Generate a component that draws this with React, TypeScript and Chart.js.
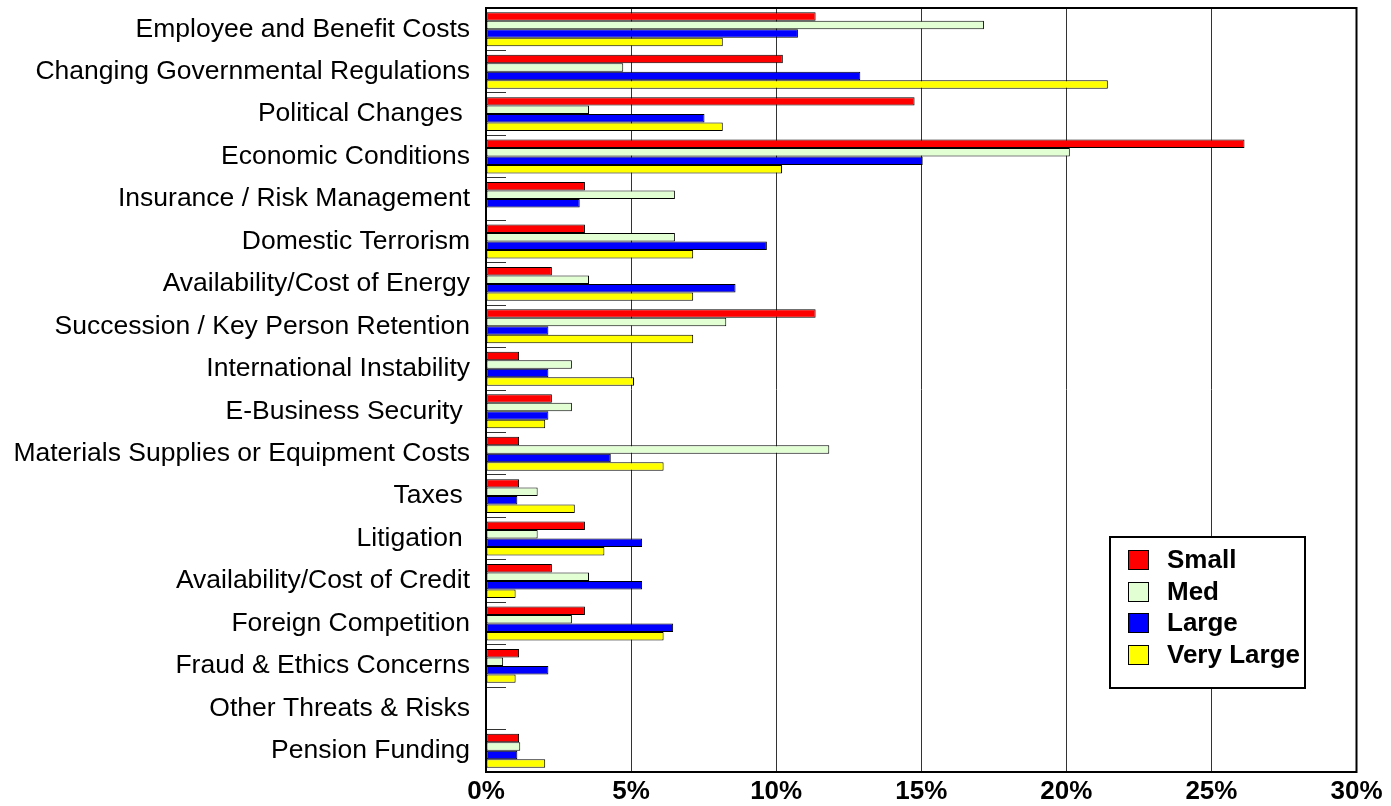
import React, { useEffect, useRef } from 'react';
import { Chart, registerables } from 'chart.js';

Chart.register(...registerables);

const categories = [
  'Employee and Benefit Costs',
  'Changing Governmental Regulations',
  'Political Changes ',
  'Economic Conditions',
  'Insurance / Risk Management',
  'Domestic Terrorism',
  'Availability/Cost of Energy',
  'Succession / Key Person Retention',
  'International Instability',
  'E-Business Security ',
  'Materials Supplies or Equipment Costs',
  'Taxes ',
  'Litigation ',
  'Availability/Cost of Credit',
  'Foreign Competition',
  'Fraud & Ethics Concerns',
  'Other Threats & Risks',
  'Pension Funding',
];

const seriesNames = ['Small', 'Med', 'Large', 'Very Large'];

const small = [11.36, 10.23, 14.77, 26.14, 3.41, 3.41, 2.27, 11.36, 1.14, 2.27, 1.14, 1.14, 3.41, 2.27, 3.41, 1.14, 0, 1.14];
const med = [17.16, 4.73, 3.55, 20.12, 6.51, 6.51, 3.55, 8.28, 2.96, 2.96, 11.83, 1.78, 1.78, 3.55, 2.96, 0.59, 0, 1.18];
const large = [10.75, 12.9, 7.53, 15.05, 3.23, 9.68, 8.6, 2.15, 2.15, 2.15, 4.3, 1.08, 5.38, 5.38, 6.45, 2.15, 0, 1.08];
const veryLarge = [8.16, 21.43, 8.16, 10.2, 0, 7.14, 7.14, 7.14, 5.1, 2.04, 6.12, 3.06, 4.08, 1.02, 6.12, 1.02, 0, 2.04];

const xTickLabels = ['0%', '5%', '10%', '15%', '20%', '25%', '30%'];

const seriesColors = ['#FF0000', '#E2FFD4', '#0000FF', '#FFFF00'];

const FONT = "'Liberation Sans', Arial, Helvetica, sans-serif";

const framePlugin = {
  id: 'frame',
  afterDatasetsDraw(chart: any) {
    const { ctx, chartArea } = chart;
    ctx.save();
    ctx.strokeStyle = '#000';
    ctx.lineWidth = 2;
    ctx.strokeRect(chartArea.left, chartArea.top, chartArea.right - chartArea.left, chartArea.bottom - chartArea.top);
    ctx.restore();
  },
};

const boxLegendPlugin = {
  id: 'boxLegend',
  afterDraw(chart: any) {
    const ctx = chart.ctx;
    const bx = 1110, by = 537, bw = 195, bh = 151;
    ctx.save();
    ctx.fillStyle = '#fff';
    ctx.fillRect(bx, by, bw, bh);
    ctx.strokeStyle = '#000';
    ctx.lineWidth = 2;
    ctx.strokeRect(bx, by, bw, bh);
    ctx.font = `bold 26px ${FONT}`;
    ctx.textBaseline = 'middle';
    ctx.textAlign = 'left';
    chart.data.datasets.forEach((ds: any, i: number) => {
      const cy = 560 + i * 31.6;
      ctx.fillStyle = ds.backgroundColor;
      ctx.fillRect(1128, Math.round(cy - 10), 21, 20);
      ctx.lineWidth = 1;
      ctx.strokeStyle = '#000';
      ctx.strokeRect(1128.5, Math.round(cy - 10) + 0.5, 20, 19);
      ctx.fillStyle = '#000';
      ctx.fillText(ds.label, 1167, cy + 1);
    });
    ctx.restore();
  },
};

export default function App() {
  const canvasRef = useRef<HTMLCanvasElement | null>(null);

  useEffect(() => {
    document.body.style.margin = '0';
    const canvas = canvasRef.current;
    if (!canvas) return;
    const seriesData = [small, med, large, veryLarge];
    const chart = new Chart(canvas, {
      type: 'bar',
      data: {
        labels: categories,
        datasets: seriesNames.map((name, i) => ({
          label: name,
          data: seriesData[i],
          backgroundColor: seriesColors[i],
          borderColor: '#000',
          borderWidth: 1,
          borderSkipped: false,
          categoryPercentage: 0.8,
          barPercentage: 1,
        })),
      },
      options: {
        animation: false,
        responsive: false,
        indexAxis: 'y',
        layout: { padding: { top: 8, right: 34.5, bottom: 0, left: 0 } },
        plugins: {
          legend: { display: false },
          tooltip: { enabled: false },
        },
        scales: {
          x: {
            type: 'linear',
            position: 'bottom',
            min: 0,
            max: 30,
            ticks: {
              stepSize: 5,
              autoSkip: false,
              maxRotation: 0,
              padding: 4,
              color: '#000',
              font: { family: FONT, size: 26, weight: 'bold' },
              callback: (v: any) => xTickLabels[Math.round(Number(v) / 5)] ?? '',
            },
            grid: {
              drawTicks: false,
              color: '#333',
              lineWidth: 1,
            },
            border: { display: true, color: '#000', width: 2 },
            afterFit: (s: any) => { s.height = 34; s.paddingLeft = 0; },
          },
          y: {
            type: 'category',
            position: 'left',
            offset: true,
            grid: {
              offset: true,
              drawOnChartArea: false,
              drawTicks: true,
              tickLength: -20,
              color: '#333',
              lineWidth: 1,
            },
            border: { display: true, color: '#000', width: 2 },
            ticks: {
              autoSkip: false,
              padding: 36,
              color: '#000',
              font: { family: FONT, size: 26.5 },
            },
            afterFit: (s: any) => { s.width = 486; s.paddingTop = 0; s.paddingBottom = 0; },
          },
        },
      } as any,
      plugins: [framePlugin, boxLegendPlugin],
    });
    return () => chart.destroy();
  }, []);

  return (
    <div style={{ width: 1391, height: 806, position: 'relative' }}>
      <canvas
        ref={canvasRef}
        width={1391}
        height={806}
        style={{ display: 'block', width: '1391px', height: '806px' }}
      />
    </div>
  );
}
